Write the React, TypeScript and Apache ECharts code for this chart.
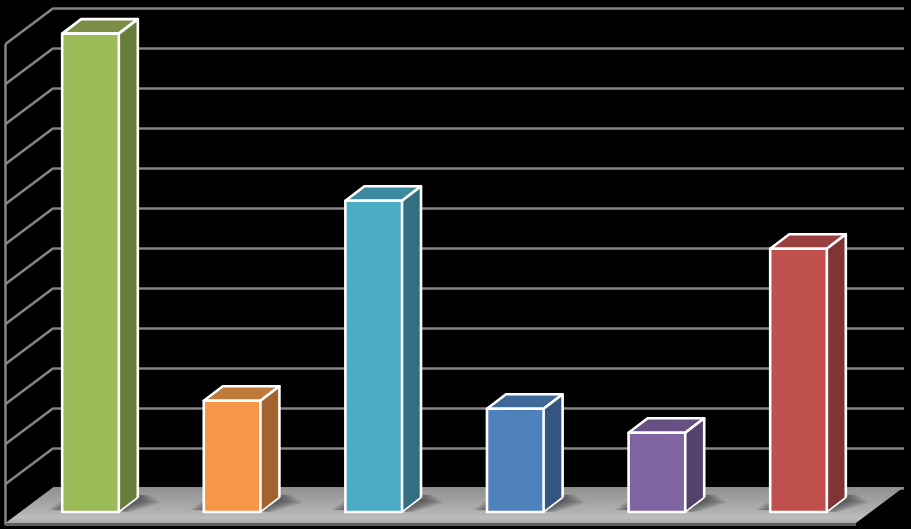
import React, { useEffect, useRef } from "react";
import * as echarts from "echarts";

const categories = ["A", "B", "C", "D", "E", "F"];
const values = [11.96, 2.78, 7.78, 2.58, 1.98, 6.58];
const wallTicks = [1, 2, 3, 4, 5, 6, 7, 8, 9, 10, 11, 12];
const frontColors = ["#9BBB59", "#F79646", "#4BACC6", "#4F81BD", "#8064A2", "#C0504D"];
const topColors = ["#7C8F47", "#BF793A", "#3C8A9F", "#3F6797", "#665082", "#9A403E"];
const sideColors = ["#677D3B", "#A4632E", "#326F82", "#34557E", "#55426C", "#7F3533"];
const shadowSteps = [9, 8, 7, 6, 5, 4, 3, 2, 1];

const DX = 19;
const DY = -14.5;
const WALL_DX = -48;
const WALL_DY = 36;
const WALL_COLOR = "#858585";

export default function App() {
  const ref = useRef<HTMLDivElement>(null);
  useEffect(() => {
    document.body.style.margin = "0";
    document.body.style.background = "#000";
    const chart = echarts.init(ref.current!, undefined, { renderer: "svg" });
    chart.setOption({
      animation: false,
      backgroundColor: "#000",
      grid: [
        { left: 19.7, top: 32, width: 849.6, height: 480 },
        { left: 53.5, top: 8, width: 850.5, height: 480 },
      ],
      xAxis: [
        { type: "category", gridIndex: 0, data: categories, show: false },
        { type: "value", gridIndex: 1, min: 0, max: 1, show: false },
      ],
      yAxis: [
        { type: "value", gridIndex: 0, min: 0, max: 12, interval: 1, show: false },
        {
          type: "value",
          gridIndex: 1,
          min: 0,
          max: 12,
          interval: 1,
          axisLabel: { show: false },
          axisLine: { show: false },
          axisTick: { show: false },
          splitLine: { show: true, lineStyle: { color: WALL_COLOR, width: 2.5 } },
        },
      ],
      series: [
        {
          type: "custom",
          xAxisIndex: 1,
          yAxisIndex: 1,
          z: 1,
          coordinateSystem: "cartesian2d",
          data: wallTicks.map((t) => [0, t]),
          renderItem: (_p: any, api: any) => {
            const p = api.coord([0, api.value(1)]);
            return {
              type: "line",
              shape: { x1: p[0], y1: p[1], x2: p[0] + WALL_DX, y2: p[1] + WALL_DY },
              style: { stroke: WALL_COLOR, lineWidth: 2.5, fill: "none" },
            };
          },
        },
        {
          type: "custom",
          xAxisIndex: 1,
          yAxisIndex: 1,
          z: 2,
          data: [[0, 12]],
          renderItem: (_p: any, api: any) => {
            const top = api.coord([0, 12]);
            const bot = api.coord([0, 0]);
            const far = api.coord([1, 0]);
            const x = top[0] + WALL_DX;
            const backY = bot[1] - 1;
            const frontY = bot[1] + WALL_DY - 1;
            const fl = [
              [bot[0], backY],
              [far[0], backY],
              [far[0] + WALL_DX, frontY],
              [bot[0] + WALL_DX, frontY],
            ];
            return {
              type: "group",
              children: [
                {
                  type: "line",
                  shape: { x1: x, y1: top[1] + WALL_DY, x2: x, y2: frontY + 2 },
                  style: { stroke: WALL_COLOR, lineWidth: 2.5, fill: "none" },
                },
                {
                  type: "polygon",
                  shape: {
                    points: [
                      [bot[0] + WALL_DX, frontY],
                      [far[0] + WALL_DX, frontY],
                      [far[0] + WALL_DX, frontY + 3],
                      [bot[0] + WALL_DX, frontY + 3],
                    ],
                  },
                  style: { fill: "#5e5e5e" },
                },
                {
                  type: "polygon",
                  shape: { points: fl },
                  style: {
                    fill: new echarts.graphic.LinearGradient(0, 0, 0, 1, [
                      { offset: 0, color: "#8f8f8f" },
                      { offset: 0.7, color: "#b2b2b2" },
                      { offset: 0.85, color: "#bdbdbd" },
                      { offset: 1, color: "#a8a8a8" },
                    ]),
                  },
                },
              ],
            };
          },
        },
        {
          type: "custom",
          xAxisIndex: 0,
          yAxisIndex: 0,
          z: 3,
          data: values.map((v, i) => [i, v]),
          renderItem: (p: any, api: any) => {
            const i = p.dataIndex;
            const top = api.coord([api.value(0), api.value(1)]);
            const base = api.coord([api.value(0), 0]);
            const w = api.size([1, 0])[0] * 0.4;
            const l = top[0] - w / 2;
            const r = top[0] + w / 2;
            const t = top[1];
            const b = base[1];
            const edge = { stroke: "#fff", lineWidth: 2.6, lineJoin: "round" };
            const shadows = shadowSteps.map((k) => ({
              type: "polygon",
              silent: true,
              shape: {
                points: [
                  [l - k * 1.6, b - 2],
                  [r + k * 1.2, b - 2 + k * 0.25],
                  [r + DX + k * 2.6, b + DY + 3 + k * 0.25],
                  [r + DX + k * 1.2, b + DY - 2 - k * 0.1],
                  [l + DX - k * 1.2, b + DY - 2 - k * 0.1],
                ],
              },
              style: { fill: "#2c2c2c", opacity: 0.085 },
            }));
            return {
              type: "group",
              children: [
                ...shadows,
                {
                  type: "polygon",
                  shape: { points: [[l, t], [r, t], [r + DX, t + DY], [l + DX, t + DY]] },
                  style: { fill: topColors[i], ...edge },
                },
                {
                  type: "polygon",
                  shape: { points: [[r, t], [r + DX, t + DY], [r + DX, b + DY], [r, b]] },
                  style: { fill: sideColors[i] },
                },
                {
                  type: "polyline",
                  shape: { points: [[r, t], [r + DX, t + DY], [r + DX, b + DY]] },
                  style: { fill: "none", ...edge },
                },
                {
                  type: "line",
                  shape: { x1: r, y1: b, x2: r + DX, y2: b + DY },
                  style: { stroke: "#fff", lineWidth: 1.6 },
                },
                {
                  type: "rect",
                  shape: { x: l, y: t, width: r - l, height: b - t },
                  style: { fill: frontColors[i], ...edge },
                },
              ],
            };
          },
        },
      ],
    });
    return () => chart.dispose();
  }, []);
  return (
    <div
      ref={ref}
      style={{ position: "absolute", left: 0, top: 0, width: 911, height: 529, background: "#000" }}
    />
  );
}
